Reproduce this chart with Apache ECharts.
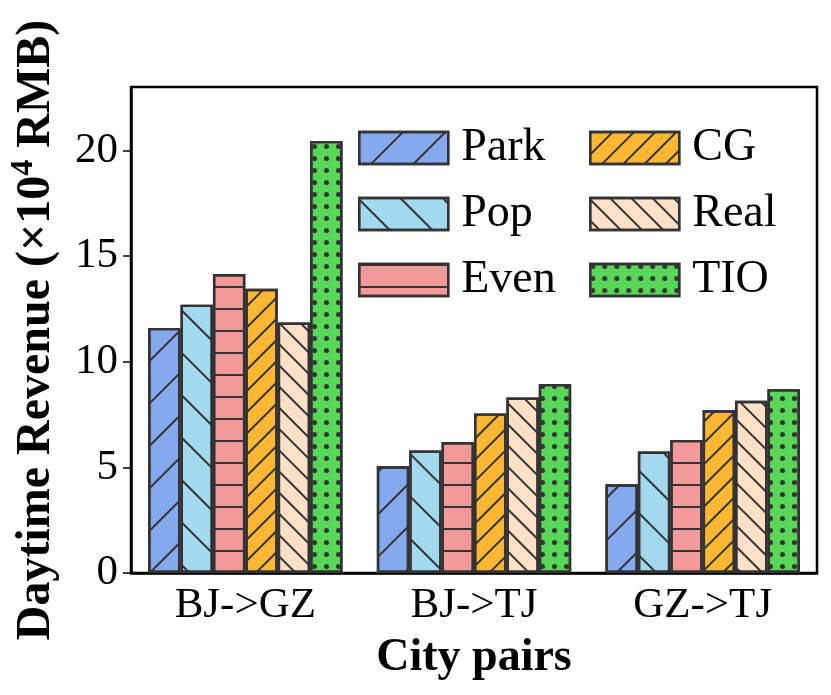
<!DOCTYPE html>
<html>
<head>
    <meta charset="utf-8">
    <script src="https://cdn.jsdelivr.net/npm/echarts@6/dist/echarts.min.js"></script>
    <style>
        html, body {margin: 0; padding: 0; background: #fff;}
        #chart {width: 831px; height: 695px;}
    </style>
</head>
<body>
<div id="chart"></div>
<script>
    // city pairs on the x axis
    var cityPairs = ['BJ->GZ', 'BJ->TJ', 'GZ->TJ'];
    // revenue per method, unit 10^4 RMB
    var park = [11.6, 5.05, 4.2];
    var pop = [12.7, 5.8, 5.75];
    var even = [14.15, 6.2, 6.3];
    var cg = [13.45, 7.55, 7.7];
    var real = [11.85, 8.3, 8.15];
    var tio = [20.45, 8.95, 8.7];
    var yTicks = [0, 5, 10, 15, 20];

    var font = 'Liberation Serif';
    var edge = '#333';

    // hatch helpers
    function lines(gap, angle) {
        return {
            symbol: 'rect', symbolSize: 1, color: edge,
            dashArrayX: [1, 0], dashArrayY: [2, gap], rotation: angle
        };
    }
    function dots() {
        return {
            symbol: 'circle', symbolSize: 1, color: edge,
            dashArrayX: [4.5, 6.5], dashArrayY: [4.5, 6.5], rotation: 0
        };
    }

    function makeSeries(name, data, color, decal) {
        return {
            name: name,
            type: 'bar',
            data: data,
            barGap: '0%',
            barCategoryGap: '15%',
            itemStyle: {color: color, borderColor: edge, borderWidth: 2.4, decal: decal}
        };
    }

    var myChart = echarts.init(document.getElementById('chart'));

    var legendCommon = {
        orient: 'vertical',
        top: 120,
        itemWidth: 89,
        itemHeight: 32,
        itemGap: 20,
        icon: 'rect',
        selectedMode: false,
        itemStyle: {borderColor: edge, borderWidth: 2.4},
        textStyle: {fontFamily: font, fontSize: 46, color: '#000', padding: [0, 0, 0, 8]}
    };

    var option = {
        animation: false,
        grid: {
            left: 131, right: 14, top: 87, bottom: 122, outerBoundsMode: 'none',
            show: true, borderColor: '#000', borderWidth: 2.5
        },
        legend: [
            Object.assign({left: 353, data: ['Park', 'Pop', 'Even']}, legendCommon),
            Object.assign({left: 584, data: ['CG', 'Real', 'TIO']}, legendCommon)
        ],
        xAxis: {
            type: 'category',
            data: cityPairs,
            name: 'City pairs',
            nameLocation: 'middle',
            nameGap: 62,
            nameTextStyle: {fontFamily: font, fontSize: 46, fontWeight: 'bold', color: '#000'},
            axisLine: {lineStyle: {color: '#000', width: 2.5}},
            axisTick: {alignWithLabel: true, length: 8, lineStyle: {color: '#000', width: 1.5}},
            axisLabel: {fontFamily: font, fontSize: 43, color: '#000', margin: 11}
        },
        yAxis: {
            type: 'value',
            min: 0,
            max: 23,
            interval: 5,
            name: 'Daytime Revenue (×10{sup|4} RMB)',
            nameLocation: 'middle',
            nameGap: 66,
            nameTextStyle: {
                fontFamily: font, fontSize: 48, fontWeight: 'bold', color: '#000', lineHeight: 56,
                rich: {
                    sup: {fontFamily: font, fontSize: 32, fontWeight: 'bold', color: '#000',
                        lineHeight: 32, verticalAlign: 'top'}
                }
            },
            splitLine: {show: false},
            axisLine: {show: true, lineStyle: {color: '#000', width: 2.5}},
            axisTick: {show: true, length: 8, lineStyle: {color: '#000', width: 1.5}},
            axisLabel: {
                fontFamily: font, fontSize: 43, color: '#000', margin: 13, showMaxLabel: false,
                formatter: function (v) { return yTicks.indexOf(v) >= 0 ? String(v) : ''; }
            }
        },
        series: [
            makeSeries('Park', park, '#85A9EE', lines(28, -Math.PI / 4)),
            makeSeries('Pop', pop, '#A2D9EE', lines(28, Math.PI / 4)),
            makeSeries('Even', even, '#F29A9A', lines(20, 0)),
            makeSeries('CG', cg, '#FDB733', lines(13, -Math.PI / 4)),
            makeSeries('Real', real, '#FEE0C6', lines(13, Math.PI / 4)),
            makeSeries('TIO', tio, '#58D658', dots())
        ]
    };

    myChart.setOption(option);
</script>
</body>
</html>
